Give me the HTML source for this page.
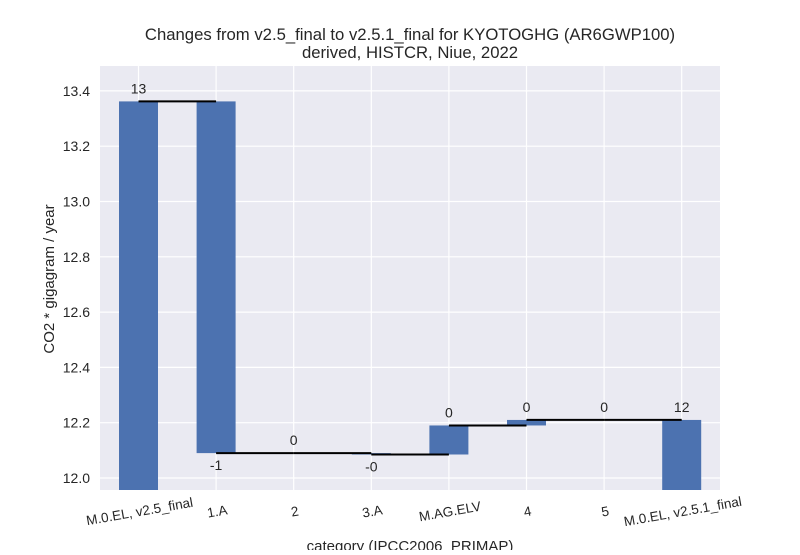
<!DOCTYPE html>
<html><head><meta charset="utf-8"><style>
body{margin:0;background:#fff;}
svg text{font-family:"Liberation Sans",sans-serif;fill:#262626;}
</style></head><body>
<svg id="chart" width="800" height="550" xmlns="http://www.w3.org/2000/svg">
<text x="410" y="40" font-size="16.7" text-anchor="middle">Changes from v2.5_final to v2.5.1_final for KYOTOGHG (AR6GWP100)</text>
<text x="410" y="58" font-size="16.7" text-anchor="middle">derived, HISTCR, Niue, 2022</text>
<rect x="100" y="66" width="620" height="424" fill="#eaeaf2"/>
<g id="grid"></g><g id="bars"></g><g id="lines"></g><g id="labels"></g><g id="axes"></g>
<text transform="translate(54,279) rotate(-90)" font-size="15" text-anchor="middle">CO2 * gigagram / year</text>
<text x="410" y="551" font-size="15" text-anchor="middle">category (IPCC2006_PRIMAP)</text>
</svg>
<script>
const categories=["M.0.EL, v2.5_final","1.A","2","3.A","M.AG.ELV","4","5","M.0.EL, v2.5.1_final"];
const levels=[13.362,12.09,12.09,12.085,12.19,12.21,12.21,12.21];
const valueLabels=["13","-1","0","-0","0","0","0","12"];
const yTicks=[12.0,12.2,12.4,12.6,12.8,13.0,13.2,13.4];
const NS="http://www.w3.org/2000/svg";
function y(v){return 478-(v-12.0)*276.5;}
function x(i){return 138.5+i*77.6;}
function mk(p,tag,a){const e=document.createElementNS(NS,tag);for(const k in a)e.setAttribute(k,a[k]);document.getElementById(p).appendChild(e);return e;}
yTicks.forEach(t=>{
 const g=mk("grid","line",{x1:100,x2:720,y1:y(t),y2:y(t),stroke:"#fff","stroke-width":1.2});
 
 
 const l=mk("axes","text",{x:90,y:y(t)+5,"font-size":14,"text-anchor":"end"});
 l.textContent=t.toFixed(1);
 
 
});
categories.forEach((c,i)=>{
 const g=mk("grid","line",{x1:x(i),x2:x(i),y1:66,y2:490,stroke:"#fff","stroke-width":1.2});
 
 
 const cx=x(i)+1;
 const l=mk("axes","text",{x:cx,y:516,"font-size":13.5,"text-anchor":"middle",transform:`rotate(-10 ${cx} 511)`});
 l.textContent=c;
 
 
 const n=categories.length;
 let top,bot;
 if(i===0||i===n-1){top=y(levels[i]);bot=490;}
 else{const a=levels[i-1],b=levels[i];top=y(Math.max(a,b));bot=y(Math.min(a,b));}
 const r=mk("bars","rect",{x:x(i)-19.5,y:top,width:39,height:Math.max(0,bot-top),fill:"#4c72b0"});
 
 
 if(i<n-1){
  const ln=mk("lines","line",{x1:x(i),x2:x(i+1),y1:y(levels[i]),y2:y(levels[i]),stroke:"#000","stroke-width":2});
  
  
 }
 const neg=valueLabels[i].startsWith("-");
 const t=mk("labels","text",{x:x(i),y:neg?y(levels[i])+17:y(levels[i])-8,"font-size":14,"text-anchor":"middle"});
 t.textContent=valueLabels[i];
 
 
});
</script>
</body></html>
